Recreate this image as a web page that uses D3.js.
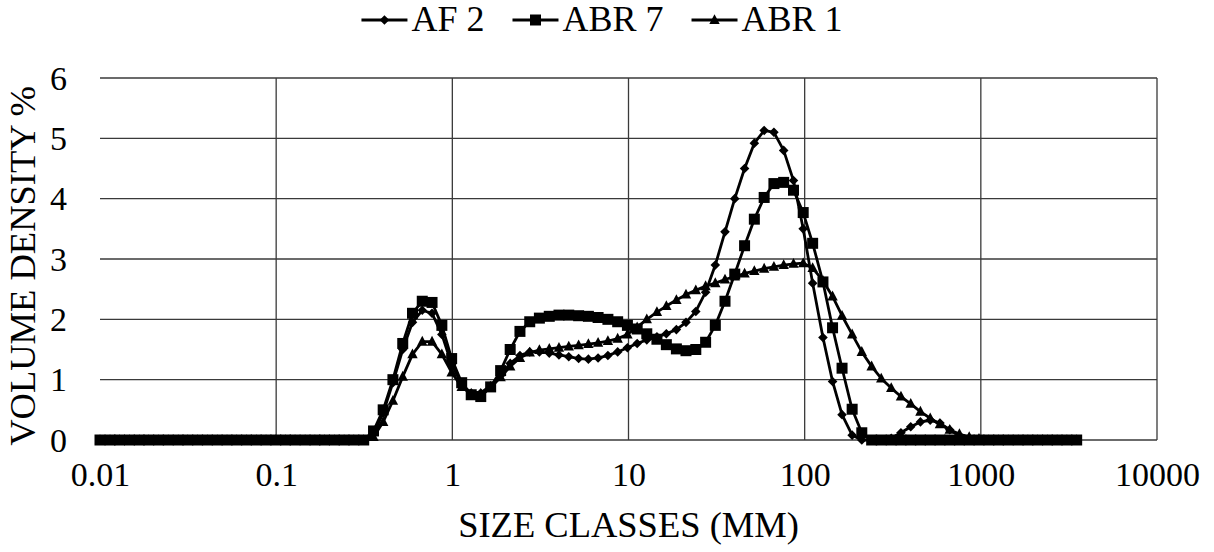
<!DOCTYPE html>
<html><head><meta charset="utf-8">
<script src="https://cdn.jsdelivr.net/npm/d3@7"></script>
<style>
body{margin:0;background:#fff}svg{display:block}
svg text{font-family:"Liberation Serif","Times New Roman",Times,Tinos,"Nimbus Roman","Noto Serif",FreeSerif,"DejaVu Serif",serif !important;fill:#000}
</style>
</head><body>
<svg id="c" width="1214" height="552"></svg>
<script>
// Size classes (mm) of the instrument, log spaced
const sizeClasses = [0.0100,0.0114,0.0129,0.0147,0.0167,0.0189,0.0215,0.0244,0.0278,0.0315,
0.0358,0.0407,0.0463,0.0526,0.0597,0.0679,0.0771,0.0876,0.0995,0.113,
0.128,0.146,0.166,0.188,0.214,0.243,0.276,0.314,0.357,0.405,
0.460,0.523,0.594,0.675,0.767,0.872,0.991,1.13,1.28,1.45,
1.65,1.88,2.13,2.42,2.75,3.12,3.55,4.03,4.58,5.21,
5.92,6.72,7.64,8.68,9.86,11.2,12.7,14.5,16.4,18.7,
21.2,24.1,27.4,31.1,35.3,40.1,45.6,51.8,58.9,66.9,
76.0,86.4,98.1,111,127,144,163,186,211,240,
272,310,352,400,454,516,586,666,756,859,
976,1110,1260,1430,1630,1850,2100,2390,2710,3080,3500];

const af2 = [0,0,0,0,0,0,0,0,0,0,
0,0,0,0,0,0,0,0,0,0,
0,0,0,0,0,0,0,0,0.10,0.45,
0.95,1.50,1.95,2.15,2.10,1.75,1.25,0.92,0.78,0.78,
0.90,1.07,1.27,1.40,1.46,1.46,1.44,1.41,1.38,1.35,
1.34,1.36,1.40,1.46,1.53,1.60,1.66,1.71,1.76,1.83,
1.95,2.13,2.45,2.90,3.45,4.00,4.50,4.92,5.13,5.10,
4.80,4.30,3.50,2.60,1.70,0.97,0.42,0.08,0,0,
0,0.03,0.12,0.22,0.30,0.33,0.28,0.17,0.07,0.02,
0,0,0,0,0,0,0,0,0,0,0];

const abr7 = [0,0,0,0,0,0,0,0,0,0,
0,0,0,0,0,0,0,0,0,0,
0,0,0,0,0,0,0,0,0.15,0.50,
1.00,1.60,2.10,2.30,2.28,1.90,1.35,0.95,0.75,0.72,
0.88,1.15,1.50,1.80,1.96,2.02,2.05,2.07,2.07,2.06,
2.05,2.03,2.00,1.96,1.90,1.84,1.76,1.67,1.58,1.51,
1.48,1.50,1.62,1.90,2.30,2.75,3.22,3.66,4.02,4.25,
4.27,4.14,3.77,3.26,2.62,1.86,1.19,0.51,0.12,0,
0,0,0,0,0,0,0,0,0,0,
0,0,0,0,0,0,0,0,0,0,0];

const abr1 = [0,0,0,0,0,0,0,0,0,0,
0,0,0,0,0,0,0,0,0,0,
0,0,0,0,0,0,0,0,0.05,0.30,
0.65,1.05,1.42,1.63,1.63,1.42,1.12,0.88,0.76,0.76,
0.87,1.04,1.22,1.36,1.45,1.49,1.51,1.53,1.55,1.57,
1.59,1.61,1.64,1.68,1.75,1.87,2.00,2.12,2.22,2.32,
2.41,2.48,2.55,2.60,2.66,2.71,2.76,2.80,2.84,2.87,
2.90,2.92,2.93,2.85,2.64,2.38,2.06,1.75,1.46,1.22,
1.02,0.86,0.72,0.60,0.47,0.36,0.26,0.17,0.10,0.05,
0.02,0,0,0,0,0,0,0,0,0,0];

const seriesNames = ["AF 2","ABR 7","ABR 1"];
const markerTypes = ["diamond","square","triangle"];
const xTicks = [0.01,0.1,1,10,100,1000,10000];
const xTickLabels = ["0.01","0.1","1","10","100","1000","10000"];
const yTicks = [0,1,2,3,4,5,6];
const xTitle = "SIZE CLASSES (MM)";
const yTitle = "VOLUME DENSITY %";

const svg = d3.select("#c");
const x = d3.scaleLog().domain([0.01,10000]).range([100,1157]);
const y = d3.scaleLinear().domain([0,6]).range([440,78]);

// gridlines
const grid = svg.append("g").attr("stroke","#3a3a3a").attr("stroke-width",1.3);
grid.selectAll("line.h").data(yTicks).join("line")
  .attr("x1",x(0.01)).attr("x2",x(10000))
  .attr("y1",d=>y(d)).attr("y2",d=>y(d));
grid.selectAll("line.v").data(xTicks.slice(1)).join("line")
  .attr("x1",d=>x(d)).attr("x2",d=>x(d))
  .attr("y1",y(6)).attr("y2",y(0));

// axes (labels only)
const xAxis = svg.append("g").attr("transform",`translate(0,${y(0)})`)
  .call(d3.axisBottom(x).tickValues(xTicks).tickFormat((d,i)=>xTickLabels[i]).tickSize(0).tickPadding(14));
xAxis.select(".domain").remove();
xAxis.attr("font-family",null);
xAxis.selectAll("text").attr("font-size",34).attr("dy","0.95em");

const yAxis = svg.append("g").attr("transform",`translate(${x(0.01)},0)`)
  .call(d3.axisLeft(y).tickValues(yTicks).tickFormat(d3.format("d")).tickSize(0).tickPadding(33));
yAxis.select(".domain").remove();
yAxis.attr("font-family",null);
yAxis.selectAll("text").attr("font-size",34).attr("dy","0.33em");

// titles
svg.append("text").attr("x",628.5).attr("y",537).attr("text-anchor","middle")
  .attr("font-size",36.5).text(xTitle);
svg.append("text").attr("transform","translate(35,266) rotate(-90)").attr("text-anchor","middle")
  .attr("font-size",36.5).text(yTitle);

// markers
function markerPath(t){
  if(t==="diamond") return "M0,-4.8L4.8,0L0,4.8L-4.8,0Z";
  if(t==="square") return "M-5.5,-5.5H5.5V5.5H-5.5Z";
  return "M0,-5.8L5.2,4L-5.2,4Z";
}

const series = [af2, abr7, abr1];
const line = d3.line().x((d,i)=>x(sizeClasses[i])).y(d=>y(d));
series.forEach((vals,k)=>{
  const g = svg.append("g");
  g.append("path").attr("d",line(vals)).attr("fill","none").attr("stroke","#000").attr("stroke-width",2.8).attr("stroke-linejoin","round");
  g.selectAll("path.m").data(vals).join("path").attr("class","m")
    .attr("transform",(d,i)=>`translate(${x(sizeClasses[i])},${y(d)})`)
    .attr("d",markerPath(markerTypes[k])).attr("fill","#000");
});

// legend
const leg = svg.append("g");
let cx = 0;
seriesNames.forEach((name,k)=>{
  const it = leg.append("g").attr("transform",`translate(${cx},0)`);
  it.append("line").attr("x1",0).attr("x2",46).attr("y1",20).attr("y2",20).attr("stroke","#000").attr("stroke-width",2.8);
  it.append("path").attr("transform","translate(23,20)").attr("d",markerPath(markerTypes[k])).attr("fill","#000");
  const t = it.append("text").attr("x",50).attr("y",31).attr("font-size",36).text(name);
  cx += 50 + t.node().getComputedTextLength() + 28;
});
const lw = cx - 28;
leg.attr("transform",`translate(${602 - lw/2},0)`);
</script>
</body></html>
